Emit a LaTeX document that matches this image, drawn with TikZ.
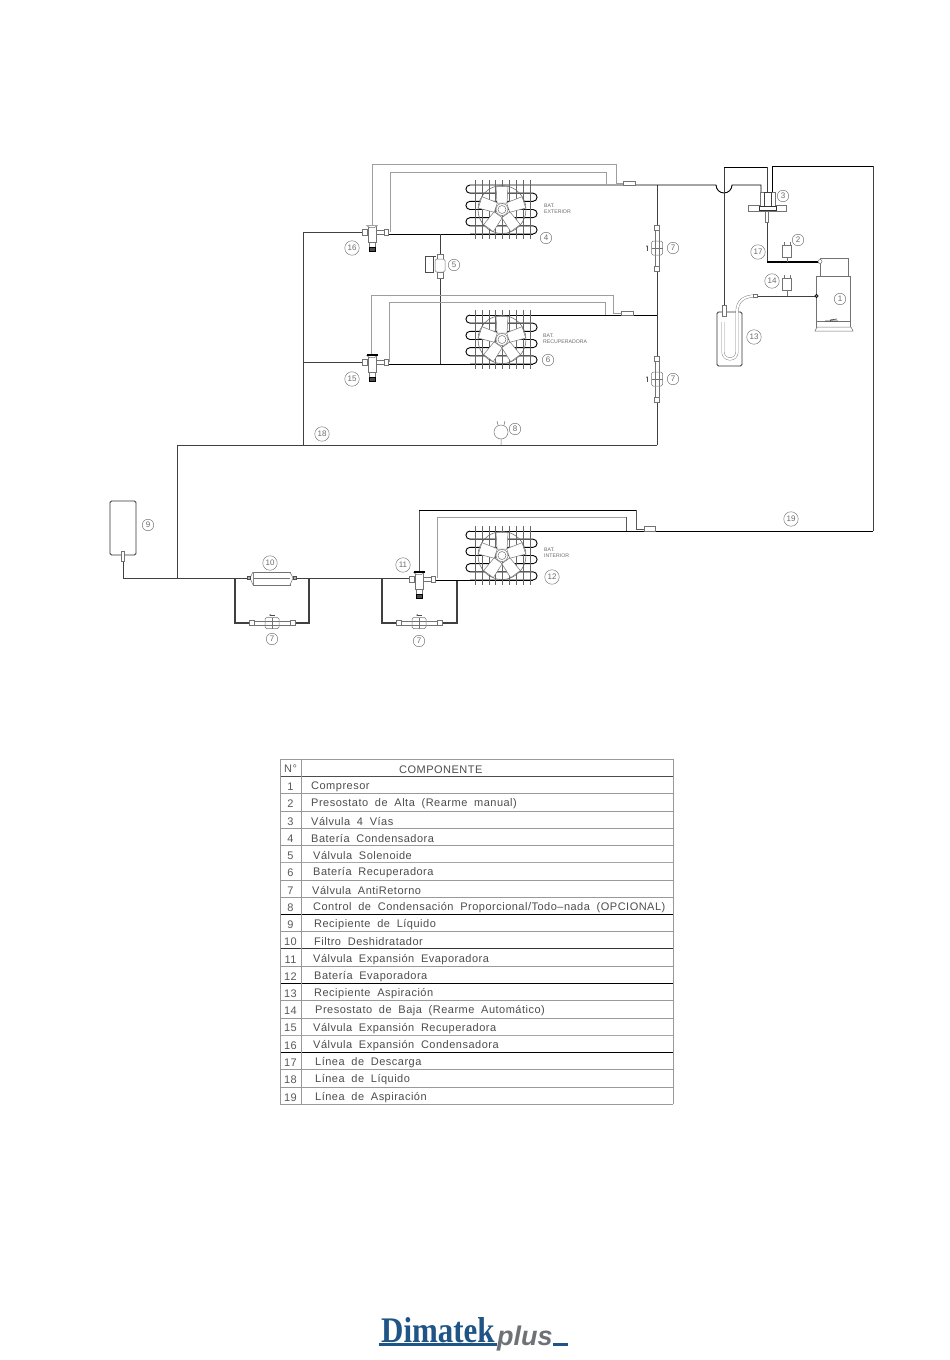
\documentclass[tikz,border=0pt]{standalone}
\usepackage{fontspec}
\setmainfont{Liberation Sans}
\newfontfamily\tabfont[LetterSpace=4.5,WordSpace=1.9]{Liberation Sans}
\newfontfamily\logoserif{Liberation Serif}
\usetikzlibrary{arrows.meta}
\definecolor{pipegray}{gray}{0.62}
\definecolor{labgray}{gray}{0.42}
\definecolor{rowgray}{gray}{0.6}
\definecolor{logoblue}{HTML}{1F5486}
\definecolor{logogray}{HTML}{6E7176}
\tikzset{
  x=1pt,y=-1pt,
  pipe/.style={draw=black,line width=0.9pt},
  pipedark/.style={draw=black!75,line width=0.9pt},
  bulbline/.style={draw=pipegray,line width=0.7pt},
  part/.style={draw=black!55,line width=0.5pt,fill=white},
  partline/.style={draw=black!55,line width=0.5pt},
  callout/.style={circle,draw=labgray,line width=0.45pt,inner sep=0pt,minimum size=11.5pt,text=labgray,font=\fontsize{8}{9}\selectfont},
  calloutw/.style={callout,minimum size=14.5pt},
  batlabel/.style={anchor=west,text=labgray,inner sep=0pt,align=left,font=\fontsize{5.2}{6.2}\selectfont},
  rowtext/.style={anchor=west,inner sep=0pt,text=black!70,font=\tabfont\fontsize{11}{12}\selectfont},
  numtext/.style={inner sep=0pt,text=black!65,font=\tabfont\fontsize{11}{12}\selectfont},
  coil/.pic={
    \draw[line width=0.9pt] (0,0) arc[start angle=270,end angle=90,radius=4.083]
      -- ++(63,0) arc[start angle=270,end angle=450,radius=4.083]
      -- ++(-63,0) arc[start angle=270,end angle=90,radius=4.083]
      -- ++(63,0) arc[start angle=270,end angle=450,radius=4.083]
      -- ++(-63,0) arc[start angle=270,end angle=90,radius=4.083]
      -- ++(63,0) arc[start angle=270,end angle=450,radius=4.083] -- ++(-63,0);
    \foreach \fx in {5,11.9,18.8,25.6,32.5,39.4,46.2,53.1,60}
      \draw[line width=0.4pt,black!60] (\fx,-5) -- (\fx,54);
    \draw[draw=black!60,line width=0.55pt] (32,24.5) circle[radius=24];
    \foreach \ang in {0,72,144,216,288}
      \draw[part,rotate around={\ang:(32,24.5)}] (27,18) -- (26,1.5) -- (38,1.5) -- (37,18) -- cycle;
    \draw[part] (32,24.5) circle[radius=6];
    \draw[partline] (32,24.5) circle[radius=4];
  },
  expv/.pic={
    \draw[part] (-10,-3) rectangle (-5,3);
    \draw[part] (12,-2.5) rectangle (16,3.5);
    \draw[part] (4,-1.5) rectangle (12,2.5);
    \draw[part] (-5,-1.5) rectangle (-3,2);
    \draw[part] (-4,-6) rectangle (4,10);
    \draw[part] (-3,10) rectangle (3,15);
    \draw[draw=black,fill=black!70,line width=0.4pt] (-3,15) rectangle (3,19);
    \draw[part] (-5.5,-6.5) -- (5.5,-6.5) -- (2.5,-4.5) -- (-2.5,-4.5) -- cycle;
  },
  expvd/.pic={
    \pic {expv};
    \draw[black,line width=1.4pt] (-5.5,-7) -- (5.5,-7);
  },
  checkbody/.pic={
    \draw[part] (-2.2,-19) rectangle (2.2,19);
    \draw[part,line width=0.6pt] (-2.5,-23) rectangle (2.5,-18);
    \draw[part,line width=0.6pt] (-2.5,18) rectangle (2.5,23);
    \draw[part,rounded corners=1.5pt] (-5.5,-7) rectangle (5.5,7);
    \draw[partline] (-2,-7) -- (-2,7) (2,-7) -- (2,7);
    \draw[partline] (-5.5,0) -- (5.5,0);
  },
  checkv/.pic={
    \pic {checkbody};
    \draw[draw=black!70,line width=0.5pt,-{Stealth[length=2pt,width=1.5pt]}] (-10,3) -- (-10,-3);
  },
  presso/.pic={
    \draw[part] (-4.5,-6) rectangle (4.5,6);
  }
}
\begin{document}
\begin{tikzpicture}
\useasboundingbox (0,0) rectangle (950,1360);
% named junctions
\coordinate (aL) at (303,232); \coordinate (aV) at (362,232);
\coordinate (bL) at (303,362); \coordinate (bV) at (362,362);
\coordinate (cL) at (303,445); \coordinate (cW) at (177,445); \coordinate (cR) at (657,445);
\coordinate (dW) at (177,578);
\coordinate (t1) at (470,185); \coordinate (t1R) at (657,185); \coordinate (h1) at (716,185); \coordinate (h2) at (732,185);
\coordinate (v3a) at (761,185); \coordinate (v3b) at (761,192);
\coordinate (b1) at (388,234); \coordinate (b1R) at (533,234); \coordinate (s1) at (440,234);
\coordinate (t2) at (470,315); \coordinate (t2R) at (657,315);
\coordinate (b2) at (388,364); \coordinate (b2R) at (533,364); \coordinate (s2) at (440,364);
\coordinate (t3) at (470,531); \coordinate (t3R) at (873,531); \coordinate (topR) at (873,166); \coordinate (topV) at (772,166); \coordinate (v3c) at (772,192);
\coordinate (rcv) at (123,555); \coordinate (rcvB) at (123,578);
\coordinate (f1) at (248,578); \coordinate (f2) at (295,578);
\coordinate (e1) at (235,578); \coordinate (e1b) at (235,623); \coordinate (e2) at (309,578); \coordinate (e2b) at (309,623);
\coordinate (cv3a) at (252,623); \coordinate (cv3b) at (292,623);
\coordinate (g1) at (382,578); \coordinate (g1b) at (382,623); \coordinate (g2) at (457,580); \coordinate (g2b) at (457,623);
\coordinate (cv4a) at (399,623); \coordinate (cv4b) at (439,623);
\coordinate (x11a) at (409,578); \coordinate (x11b) at (435,580); \coordinate (x11c) at (533,580);
\coordinate (su1) at (724,305); \coordinate (su2) at (724,167); \coordinate (su3) at (767,167); \coordinate (su4) at (767,192);
\coordinate (dis1) at (767,220); \coordinate (dis2) at (767,262); \coordinate (dis3) at (820,262);
\coordinate (lo1) at (757,296); \coordinate (lo2) at (816,296);
% main pipes
\draw[pipedark] (aV) -- (aL) -- (cL);
\draw[pipedark] (bV) -- (bL);
\draw[pipedark] (cW) -- (cR);
\draw[pipedark] (t1R) -- (cR);
\draw[pipedark] (cW) -- (dW);
\draw[pipe] (t1) -- (h1) arc[start angle=180,end angle=0,radius=8] -- (v3a) -- (v3b);
\draw[pipe] (b1) -- (b1R);
\draw[pipedark] (s1) -- (s2);
\draw[pipe] (t2) -- (t2R);
\draw[pipe] (b2) -- (b2R);
\draw[pipedark] (rcv) -- (rcvB) -- (f1);
\draw[pipedark] (f2) -- (x11a);
\draw[pipedark,line width=1.1pt] (e1) -- (e1b) -- (cv3a);
\draw[pipedark,line width=1.1pt] (e2) -- (e2b) -- (cv3b);
\draw[pipedark,line width=1.1pt] (g1) -- (g1b) -- (cv4a);
\draw[pipedark,line width=1.1pt] (g2) -- (g2b) -- (cv4b);
\draw[pipe] (x11b) -- (x11c);
\draw[pipe] (t3) -- (t3R);
\draw[pipedark] (t3R) -- (topR);
\draw[pipe] (topR) -- (topV) -- (v3c);
\draw[pipedark] (su1) -- (su2);
\draw[pipe] (su2) -- (su3);
\draw[pipedark] (su3) -- (su4);
\draw[pipedark] (dis1) -- (dis2);
\draw[pipe,line width=1.2pt] (dis2) -- (dis3);
\draw[pipedark] (lo1) -- (lo2);
% thermostatic bulb lines
\draw[bulbline] (372,225) -- (372,164) -- (616,164) -- (616,183) -- (624,183);
\draw[bulbline] (390,232) -- (390,172) -- (606,172) -- (606,185);
\draw[part] (623,181) rectangle (635,185);
\draw[bulbline] (371,356) -- (371,295) -- (613,295) -- (613,313) -- (621,313);
\draw[bulbline] (389,362) -- (389,302) -- (605,302) -- (605,315);
\draw[part] (621,311) rectangle (633,315);
\draw[draw=black!65,line width=0.7pt] (419,572) -- (419,510);
\draw[pipe] (419,510) -- (636,510);
\draw[draw=black!65,line width=0.7pt] (636,510) -- (636,529) -- (645,529);
\draw[bulbline] (437,578) -- (437,517) -- (626,517);
\draw[draw=black!65,line width=0.7pt] (626,517) -- (626,531);
\draw[part] (644,526) rectangle (655,531);
% coils
\pic at (t1) {coil};
\pic at (t2) {coil};
\pic at (t3) {coil};
% expansion valves
\pic at (372,232) {expv};
\pic at (372,362) {expvd};
\pic at (419,579) {expvd};
% check valves
\pic at (657,248) {checkv};
\pic at (657,379) {checkv};
\pic[rotate=90] at (272,623) {checkbody};
\pic[rotate=90] at (419,623) {checkbody};
\draw[draw=black!70,line width=0.5pt,-{Stealth[length=2pt,width=1.5pt]}] (275,615) -- (269,615);
\draw[draw=black!70,line width=0.5pt,-{Stealth[length=2pt,width=1.5pt]}] (422,615) -- (416,615);
% solenoid
\draw[part] (437,254) rectangle (443,259);
\draw[part] (437,272) rectangle (443,278);
\draw[part,rounded corners=1.5pt] (435,259) rectangle (445,272);
\draw[draw=black!70,line width=0.5pt] (433,256) -- (425,256) -- (425,272) -- (433,272) -- (433,256) -- (436,256);
% gauge 8
\draw[partline] (501,432) circle[radius=7];
\draw[partline] (501,439) -- (501,445) (498,425) -- (497,421) (504,425) -- (505,421);
% receiver 9
\draw[draw=black!80,line width=0.8pt,rounded corners=1.5pt,fill=white] (110,501) rectangle (136,555);
\draw[part] (121.5,551) rectangle (124.5,561);
% filter 10
\draw[part] (253,572) rectangle (290,585);
\draw[partline] (253,578.5) -- (290,578.5);
\draw[part] (253,572) -- (250,578) -- (253,585);
\draw[part] (290,572) -- (293,578) -- (290,585);
\draw[draw=black!70,fill=black!30,line width=0.4pt] (247,576.5) rectangle (250,579.5);
\draw[draw=black!70,fill=black!30,line width=0.4pt] (293,576.5) rectangle (296,579.5);
% four way valve 3
\draw[part] (748,205) rectangle (786,211);
\draw[partline] (767,200) -- (767,212);
\draw[part] (760,192) rectangle (775,207);
\draw[draw=black!75,line width=0.8pt] (764,192) rectangle (771,206);
\draw[draw=black!80,line width=0.7pt,fill=white] (759,206) rectangle (776,210);
\draw[part] (765.5,211) rectangle (768.5,222);
% pressure switches
\coordinate (p2) at (787,251); \coordinate (p2b) at (787,262);
\coordinate (p14) at (787,284); \coordinate (p14b) at (787,296);
\draw[partline] (p2) -- (p2b);
\draw[partline] (p14) -- (p14b);
\draw[partline] (784,245) -- (784,242) (790,245) -- (790,242);
\draw[partline] (784,278) -- (784,275) (790,278) -- (790,275);
\pic at (p2) {presso};
\pic at (p14) {presso};
% suction accumulator 13
\draw[draw=black!80,line width=0.8pt,rounded corners=1.5pt,fill=white] (717,312) rectangle (742,366);
\draw[part] (722,305) rectangle (726,316);
\draw[draw=black!50,line width=0.45pt,double=white,double distance=2pt] (755,296) .. controls (745,296) and (737,300) .. (737,312) -- (737,352) arc[start angle=0,end angle=180,radius=7] -- (723,322);
\draw[part] (753,294.5) rectangle (757,297.5);
% compressor 1
\draw[part] (816,276) rectangle (850,327);
\draw[part] (820,258) rectangle (848,276);
\draw[part] (815,331) -- (817,327) -- (851,327) -- (853,331) -- cycle;
\draw[partline] (816,321) -- (850,321);
\draw[draw=black!70,line width=0.7pt] (825,321) -- (838,321) (830,320) -- (837,319);
\draw[part] (820,261.5) circle[radius=2];
\draw[draw=black,fill=black!50,line width=0.5pt] (816.5,296) circle[radius=1.8];
% callouts
\node[callout] (n1) at (840,299) {1};
\node[callout] (n2) at (798,240) {2};
\node[callout] (n3) at (783,196) {3};
\node[callout] (n4) at (546,238) {4};
\node[callout] (n5) at (454,265) {5};
\node[callout] (n6) at (548,360) {6};
\node[callout] (n7a) at (673,248) {7};
\node[callout] (n7b) at (673,379) {7};
\node[callout] (n7c) at (272,639) {7};
\node[callout] (n7d) at (419,641) {7};
\node[callout] (n8) at (515,429) {8};
\node[callout] (n9) at (148,525) {9};
\node[calloutw] (n10) at (270,563) {10};
\node[calloutw] (n11) at (403,565) {11};
\node[calloutw] (n12) at (552,577) {12};
\node[calloutw] (n13) at (754,337) {13};
\node[calloutw] (n14) at (772,281) {14};
\node[calloutw] (n15) at (352,379) {15};
\node[calloutw] (n16) at (352,248) {16};
\node[calloutw] (n17) at (758,252) {17};
\node[calloutw] (n18) at (322,434) {18};
\node[calloutw] (n19) at (791,519) {19};
\node[batlabel] (bat1) at (544,209) {BAT.\\EXTERIOR};
\node[batlabel] (bat2) at (543,339) {BAT.\\RECUPERADORA};
\node[batlabel] (bat3) at (544,553) {BAT.\\INTERIOR};
% table
\foreach \i/\c/\w in {0/rowgray/0.5,1/black!70/0.6,2/rowgray/0.5,3/rowgray/0.5,4/rowgray/0.5,5/rowgray/0.5,6/black!35/1,7/rowgray/0.5,8/rowgray/0.5,9/black/0.7,10/rowgray/0.5,11/black!80/0.6,12/rowgray/0.5,13/black/0.7,14/rowgray/0.5,15/rowgray/0.5,16/black!35/0.8,17/black/0.7,18/rowgray/0.5,19/rowgray/0.5,20/rowgray/0.5}
  \draw[draw=\c,line width=\w pt] (280,759+17.25*\i) -- (673,759+17.25*\i);
\draw[draw=rowgray,line width=0.5pt] (280,759) -- (280,1104) (301,759) -- (301,1104) (673,759) -- (673,1104);
\node[numtext] (hn) at (290.5,769) {N°};
\node[rowtext] (hc) at (399,769.5) {COMPONENTE};
\foreach \i/\xx/\t in {
  1/311/{Compresor},
  2/311/{Presostato de Alta (Rearme manual)},
  3/311/{Válvula 4 Vías},
  4/311/{Batería Condensadora},
  5/313/{Válvula Solenoide},
  6/313/{Batería Recuperadora},
  7/312/{Válvula AntiRetorno},
  8/313/{Control de Condensación Proporcional/Todo–nada (OPCIONAL)},
  9/314/{Recipiente de Líquido},
  10/314/{Filtro Deshidratador},
  11/313/{Válvula Expansión Evaporadora},
  12/314/{Batería Evaporadora},
  13/314/{Recipiente Aspiración},
  14/315/{Presostato de Baja (Rearme Automático)},
  15/313/{Válvula Expansión Recuperadora},
  16/313/{Válvula Expansión Condensadora},
  17/315/{Línea de Descarga},
  18/315/{Línea de Líquido},
  19/315/{Línea de Aspiración}}
{
  \node[numtext] (num\i) at (290.5,769.5+17.25*\i) {\i};
  \node[rowtext] (row\i) at (\xx,769.5+17.25*\i) {\t};
}
% logo
\node[anchor=base west,inner sep=0pt,text=logoblue,xscale=0.86,font=\logoserif\bfseries\fontsize{36}{36}\selectfont] (logo1) at (381,1342) {Dimatek};
\node[anchor=base west,inner sep=0pt,text=logogray,font=\bfseries\itshape\fontsize{27}{27}\selectfont] (logo2) at (497,1345) {plus};
\coordinate (u1) at (379,1344.5); \coordinate (u2) at (497,1344.5); \coordinate (u3) at (553,1344.5); \coordinate (u4) at (568,1344.5);
\draw[logoblue,line width=2.6pt] (u1) -- (u2);
\draw[logoblue,line width=2.6pt] (u3) -- (u4);
\end{tikzpicture}
\end{document}
